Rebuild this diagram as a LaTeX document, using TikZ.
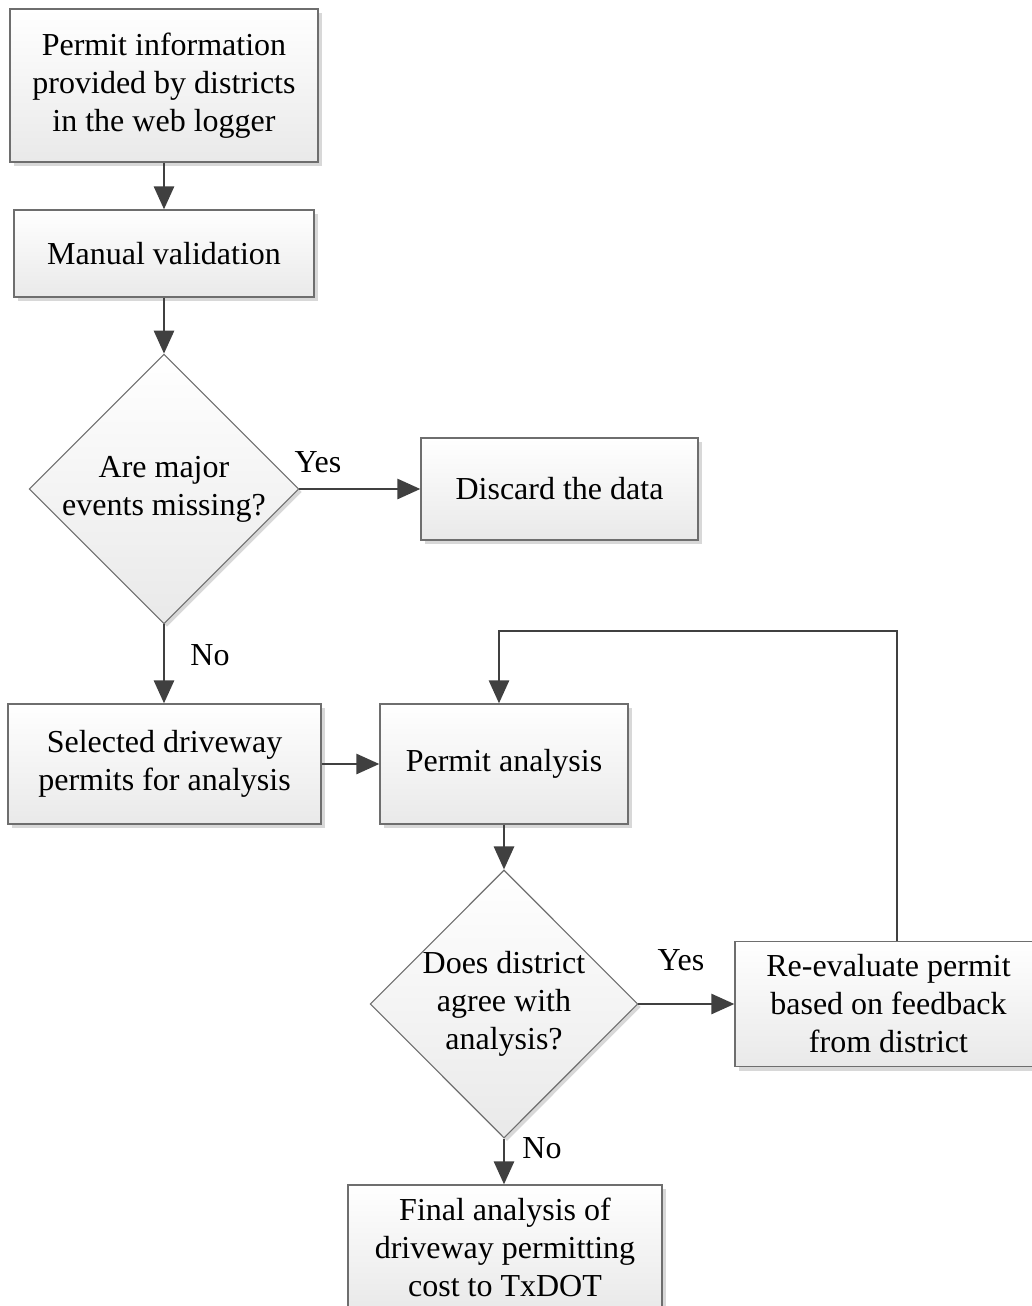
\documentclass[tikz,border=0pt]{standalone}
\usepackage{fontspec}
\setmainfont{Liberation Serif}
\usetikzlibrary{shapes.geometric,shadows,arrows.meta}
\definecolor{edgegray}{HTML}{6E6E6E}
\definecolor{linegray}{HTML}{404040}
\definecolor{shadegray}{HTML}{E9E9E9}
\definecolor{shadowgray}{HTML}{D8D8D8}
\begin{document}
\begin{tikzpicture}[x=1pt,y=-1pt,
  every node/.style={font=\fontsize{32}{38}\selectfont, align=center},
  procbox/.style={draw=edgegray, line width=1.3pt, rectangle, inner sep=0pt,
    top color=white, bottom color=shadegray,
    drop shadow={shadow xshift=4pt, shadow yshift=-4pt, fill=shadowgray, opacity=1}},
  decbox/.style={draw=edgegray, line width=1.1pt, diamond, aspect=1, inner sep=0pt,
    top color=white, bottom color=shadegray,
    drop shadow={shadow xshift=3pt, shadow yshift=-3pt, fill=shadowgray, opacity=1}},
  flow/.style={draw=linegray, line width=2.8pt,
    -{Triangle[length=23pt,width=20pt]}},
  lbl/.style={inner sep=0pt}]
\useasboundingbox (0,0) rectangle (1032,1306);
\clip (0,0) rectangle (1032,1306);
\fill[white] (0,0) rectangle (1032,1306);

% process boxes and decisions
\node[procbox, minimum width=308pt, minimum height=153pt] (info) at (164,85.5)
  {Permit information\\provided by districts\\in the web logger};
\node[procbox, minimum width=300pt, minimum height=87pt] (manual) at (164,253.5)
  {Manual validation};
\node[decbox, minimum width=268pt, minimum height=267pt] (missing) at (164,489)
  {Are major\\events missing?};
\node[procbox, minimum width=277pt, minimum height=102pt] (discard) at (559.5,489)
  {Discard the data};
\node[procbox, minimum width=313pt, minimum height=120pt] (selected) at (164.5,764)
  {Selected driveway\\permits for analysis};
\node[procbox, minimum width=248pt, minimum height=120pt] (analysis) at (504,764)
  {Permit analysis};
\node[decbox, minimum width=267pt, minimum height=268pt] (agree) at (504,1004)
  {Does district\\agree with\\analysis?};
\node[procbox, minimum width=307pt, minimum height=125pt] (reeval) at (888.5,1004)
  {Re-evaluate permit\\based on feedback\\from district};
\node[procbox, minimum width=314pt, minimum height=124pt] (final) at (505,1247)
  {Final analysis of\\driveway permitting\\cost to TxDOT};

% branch labels
\node[lbl] (yes1) at (318,462) {Yes};
\node[lbl] (no1) at (210,655) {No};
\node[lbl] (yes2) at (681,960) {Yes};
\node[lbl] (no2) at (542,1148) {No};

% loop corners
\coordinate (loopR) at (897,631);
\coordinate (loopL) at (499,631);

% connectors
\draw[flow] (info.south) -- (manual.north);
\draw[flow] (manual.south) -- (missing.north);
\draw[flow] (missing.east) -- (discard.west);
\draw[flow] (missing.south) -- (missing.south |- selected.north);
\draw[flow] (selected.east) -- (analysis.west);
\draw[flow] (analysis.south) -- (agree.north);
\draw[flow] (agree.east) -- (reeval.west);
\draw[flow] (agree.south) -- (agree.south |- final.north);
\draw[flow] (reeval.north -| loopR) -- (loopR) -- (loopL) -- (loopL |- analysis.north);
\end{tikzpicture}
\end{document}
